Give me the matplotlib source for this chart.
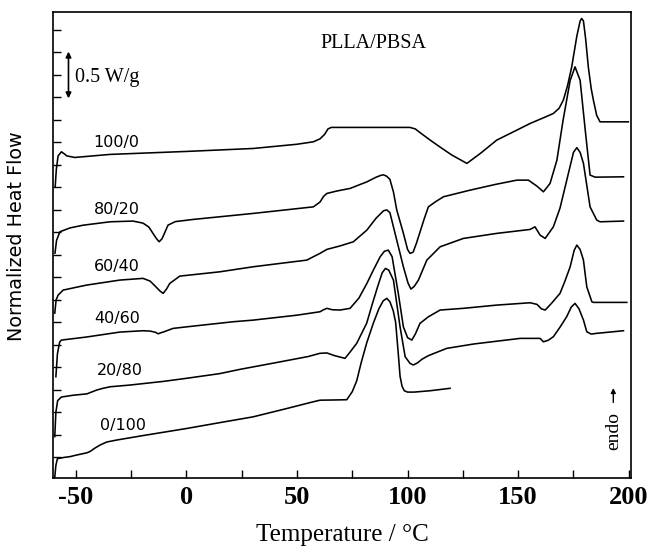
import matplotlib
matplotlib.use('Agg')
import matplotlib.pyplot as plt
import numpy as np

# ---- data (Temperature in deg C, normalized heat flow in W/g, curves offset) ----
T100 = [-59.3, -58.8, -58.0, -56.5, -55.0, -54.1, -50.5, -34.5, 0.0, 30.2, 50.0, 57.4, 60.4, 62.5, 64.0, 65.5,
        80.0, 101.1, 103.5, 105.6, 110.2, 114.6, 120.0, 126.8, 133.0, 140.3, 148.0, 155.4, 162.0, 165.9, 168.5,
        170.4, 172.3, 174.2, 176.5, 178.0, 178.7, 179.5, 180.5, 181.7, 183.0, 184.0, 185.5, 187.0, 199.8]
H100 = [3.26, 3.45, 3.60, 3.646, 3.62, 3.601, 3.583, 3.617, 3.65, 3.683, 3.73, 3.757, 3.79, 3.84, 3.90, 3.917,
        3.917, 3.917, 3.90, 3.86, 3.776, 3.70, 3.61, 3.517, 3.63, 3.776, 3.87, 3.961, 4.03, 4.072, 4.13,
        4.22, 4.38, 4.59, 4.93, 5.10, 5.128, 5.10, 4.90, 4.59, 4.35, 4.22, 4.05, 3.979, 3.979]

T80 = [-59.4, -58.7, -57.2, -52.6, -46.7, -34.5, -24.1, -19.6, -17.0, -15.1, -13.5, -12.3, -11.0, -10.1, -8.3,
       -5.0, 3.0, 30.2, 57.4, 60.4, 62.0, 63.5, 68.0, 74.0, 81.6, 85.8, 88.0, 89.1, 90.5, 92.0, 93.6, 95.1, 98.1,
       100.0, 101.1, 102.5, 104.0, 105.6, 107.5, 109.4, 112.4, 116.2, 128.3, 140.0, 149.4, 154.6, 158.5, 161.4,
       164.4, 167.5, 170.3, 173.5, 175.7, 178.0, 180.3, 182.5, 184.8, 197.6]
H80 = [2.52, 2.66, 2.757, 2.80, 2.83, 2.868, 2.876, 2.853, 2.81, 2.739, 2.68, 2.646, 2.68, 2.73, 2.831,
       2.87, 2.894, 2.961, 3.034, 3.087, 3.15, 3.183, 3.21, 3.239, 3.312, 3.364, 3.385, 3.39, 3.375, 3.34, 3.20, 3.00, 2.74,
       2.56, 2.517, 2.53, 2.63, 2.753, 2.90, 3.034, 3.087, 3.146, 3.22, 3.285, 3.331, 3.331, 3.264, 3.201,
       3.294, 3.553, 3.998, 4.44, 4.59, 4.44, 3.89, 3.387, 3.364, 3.368]

T60 = [-59.5, -58.9, -58.0, -55.7, -45.2, -30.1, -19.6, -16.4, -14.1, -12.0, -10.5, -9.0, -7.5, -3.0, 15.1, 30.2,
       54.4, 60.4, 63.5, 69.5, 75.5, 81.6, 85.8, 89.1, 90.6, 92.0, 95.1, 98.1, 100.2, 101.5, 103.0, 104.9, 108.7,
       114.7, 125.2, 140.3, 155.4, 157.6, 159.9, 162.2, 165.9, 168.9, 172.7, 175.0, 176.5, 178.0, 179.5, 182.5,
       185.5, 187.0, 197.6]
H60 = [1.853, 1.998, 2.053, 2.109, 2.164, 2.22, 2.239, 2.209, 2.153, 2.10, 2.072, 2.12, 2.183, 2.264, 2.312, 2.368,
       2.442, 2.517, 2.561, 2.60, 2.646, 2.776, 2.909, 2.99, 3.0, 2.97, 2.664, 2.368, 2.187, 2.12, 2.15, 2.22, 2.442,
       2.59, 2.683, 2.739, 2.783, 2.812, 2.72, 2.683, 2.812, 3.02, 3.406, 3.64, 3.692, 3.64, 3.517, 3.034,
       2.887, 2.868, 2.876]

T40 = [-59.0, -58.3, -57.3, -56.5, -45.2, -30.1, -19.6, -16.4, -14.0, -12.8, -11.5, -10.5, -6.0, 0.0, 21.2, 30.2,
       50.0, 60.4, 62.0, 63.5, 66.0, 69.5, 74.0, 78.0, 81.6, 84.5, 87.6, 89.5, 91.3, 93.0, 95.8, 98.1, 100.0, 101.9,
       103.5, 105.6, 109.4, 114.7, 125.2, 140.3, 155.4, 158.5, 160.5, 162.2, 165.0, 168.9, 171.0, 173.5, 175.3,
       176.5, 178.0, 179.5, 181.0, 183.3, 184.0, 199.1]
H40 = [1.146, 1.40, 1.53, 1.553, 1.587, 1.642, 1.657, 1.653, 1.64, 1.623, 1.635, 1.642, 1.683, 1.70, 1.757, 1.775,
       1.83, 1.868, 1.89, 1.906, 1.89, 1.887, 1.906, 2.02, 2.183, 2.33, 2.479, 2.54, 2.553, 2.48, 2.072, 1.70, 1.58, 1.553,
       1.62, 1.739, 1.812, 1.887, 1.906, 1.942, 1.968, 1.95, 1.90, 1.887, 1.96, 2.072, 2.20, 2.368, 2.55,
       2.609, 2.56, 2.442, 2.146, 1.979, 1.972, 1.972]

T20 = [-59.5, -59.0, -58.2, -56.5, -51.2, -45.0, -40.5, -37.7, -34.5, -25.6, -10.0, 0.0, 15.0, 24.3, 40.0, 55.0,
       60.4, 63.5, 67.0, 71.7, 74.0, 77.0, 81.5, 84.0, 86.5, 88.5, 90.0, 91.5, 93.6, 96.6, 98.9, 101.1, 102.6, 104.5,
       106.5, 109.4, 117.7, 130.0, 150.9, 159.9, 161.4, 163.5, 165.9, 169.0, 171.9, 174.0, 175.7, 177.5, 179.5,
       181.0, 183.0, 185.5, 197.6]
H20 = [0.48, 0.75, 0.88, 0.92, 0.94, 0.955, 0.998, 1.017, 1.034, 1.053, 1.095, 1.128, 1.18, 1.228, 1.30, 1.37,
       1.406, 1.41, 1.38, 1.35, 1.42, 1.517, 1.74, 1.95, 2.15, 2.30, 2.35, 2.33, 2.22, 1.70, 1.368, 1.294, 1.276, 1.30,
       1.34, 1.38, 1.461, 1.51, 1.572, 1.572, 1.534, 1.55, 1.59, 1.70, 1.812, 1.92, 1.961, 1.90, 1.776,
       1.646, 1.62, 1.628, 1.657]

T0 = [-59.5, -59.0, -58.3, -55.0, -52.7, -49.5, -45.0, -43.5, -41.5, -39.0, -36.0, -31.5, -20.0, 0.0, 15.0, 30.2,
      45.0, 57.0, 60.4, 66.0, 72.5, 75.0, 77.0, 79.0, 81.5, 84.5, 87.0, 89.0, 90.6, 92.0, 93.5, 94.6, 95.8, 96.6,
      97.5, 98.5, 100.0, 103.0, 110.2, 119.2]
H0 = [0.03, 0.16, 0.235, 0.25, 0.257, 0.276, 0.30, 0.315, 0.35, 0.387, 0.42, 0.442, 0.49, 0.57, 0.635, 0.70,
      0.79, 0.865, 0.885, 0.887, 0.89, 0.98, 1.10, 1.30, 1.52, 1.74, 1.90, 1.99, 2.017, 1.98, 1.88, 1.75, 1.40, 1.15,
      1.04, 0.99, 0.975, 0.975, 0.99, 1.017]

labels = ["100/0", "80/20", "60/40", "40/60", "20/80", "0/100"]
label_T = [-42.0, -42.0, -42.0, -41.6, -40.5, -39.0]
label_H = [3.746, 3.006, 2.368, 1.794, 1.22, 0.609]

xticks = [-50, 0, 50, 100, 150, 200]

# ---- figure ----
fig = plt.figure(figsize=(6.51, 5.47), dpi=100)
ax = fig.add_axes([53/651, 1 - 478/547, 578/651, 466/547])

for T, H in [(T100, H100), (T80, H80), (T60, H60), (T40, H40), (T20, H20), (T0, H0)]:
    ax.plot(T, H, color='black', lw=1.15, solid_joinstyle='round')

for lab, t, h in zip(labels, label_T, label_H):
    ax.text(t, h, lab, fontsize=11.5, family='DejaVu Sans', ha='left', va='center')

ax.set_xlim(-60.3, 201)
ax.set_ylim(0.02, 5.2)
ax.set_xticks(xticks)
ax.set_xticklabels([str(v) for v in xticks], fontsize=19, fontweight='bold', family='Liberation Serif')
ax.set_xticks([-25, 25, 75, 125, 175], minor=True)
ax.set_yticks(np.arange(0.25, 5.01, 0.25))
ax.set_yticklabels([])
ax.tick_params(axis='both', which='both', direction='in', length=6, width=1.0, top=False, right=False)
ax.tick_params(axis='x', which='major', pad=6)
for s in ax.spines.values():
    s.set_linewidth(1.2)

ax.set_xlabel('Temperature / °C', fontsize=18, family='Liberation Serif')
ax.xaxis.label.set_va('center')
ax.xaxis.set_label_coords(0.5, -0.122)
ax.set_ylabel('Normalized Heat Flow', fontsize=13.8, family='DejaVu Sans')
ax.yaxis.label.set_va('center')
ax.yaxis.set_label_coords(-0.064, 0.518)

ax.text(60.4, 4.853, 'PLLA/PBSA', fontsize=14.5, family='Liberation Serif', ha='left', va='center')

# scale bar 0.5 W/g
ax.annotate('', xy=(-53.3, 4.76), xytext=(-53.3, 4.24),
            arrowprops=dict(arrowstyle='<|-|>', lw=1.2, color='black', mutation_scale=8,
                            shrinkA=0, shrinkB=0))
ax.text(-50.3, 4.47, '0.5 W/g', fontsize=14.5, family='Liberation Serif', ha='left', va='center')

# endo arrow
ax.text(193.0, 0.542, 'endo', fontsize=14, family='Liberation Serif', rotation=90, ha='center', va='center')
ax.annotate('', xy=(193.0, 1.02), xytext=(193.0, 0.86),
            arrowprops=dict(arrowstyle='-|>', lw=1.0, color='black', mutation_scale=7,
                            shrinkA=0, shrinkB=0))

fig.savefig('out.png', dpi=100)
